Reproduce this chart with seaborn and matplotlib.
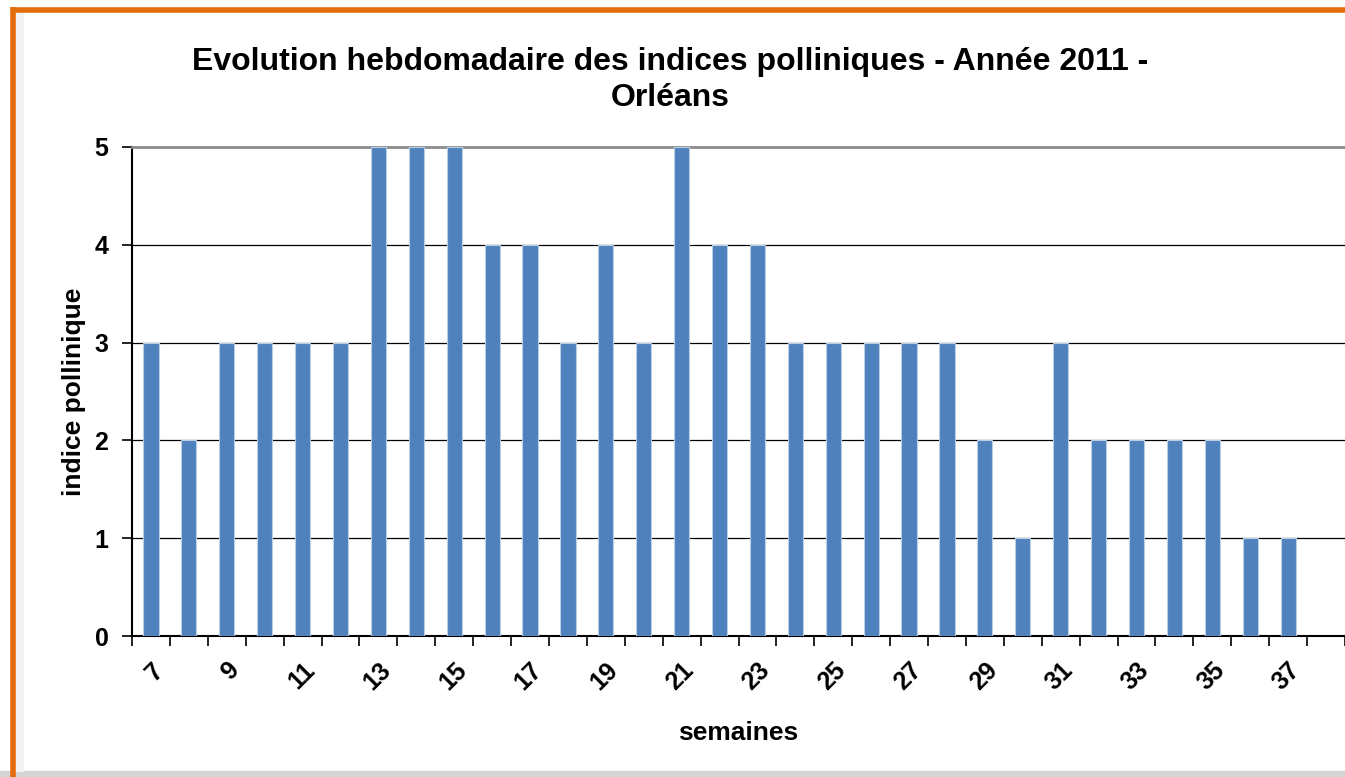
import matplotlib
matplotlib.use("Agg")
import matplotlib.pyplot as plt
import matplotlib.transforms as mtransforms
import seaborn as sns
import pandas as pd
import numpy as np
from matplotlib.lines import Line2D
from matplotlib.patches import Rectangle

weeks = [str(w) for w in range(7, 39)]
values = [3, 2, 3, 3, 3, 3, 5, 5, 5, 4, 4, 3, 4, 3, 5, 4, 4,
          3, 3, 3, 3, 3, 2, 1, 3, 2, 2, 2, 2, 1, 1, np.nan]
yticks = [0, 1, 2, 3, 4, 5]
title = "Evolution hebdomadaire des indices polliniques - Année 2011 -\nOrléans"
xlabel = "semaines"
ylabel = "indice pollinique"

sns.set_theme(style="white")
plt.rcParams['font.family'] = ['Liberation Sans', 'DejaVu Sans']
plt.rcParams['text.color'] = 'black'
plt.rcParams['axes.labelcolor'] = 'black'
plt.rcParams['xtick.color'] = 'black'
plt.rcParams['ytick.color'] = 'black'

df = pd.DataFrame({"semaine": weeks, "indice": values})

fig = plt.figure(figsize=(13.45, 7.77), dpi=100)
fig.patch.set_facecolor("white")

# frame decorations
fig.add_artist(Rectangle((0, 0), 1, 6/777, transform=fig.transFigure, color="#d4d4d4", zorder=0))
fig.add_artist(Rectangle((15/1345, 6/777), 8/1345, 1-18/777, transform=fig.transFigure, color="#f2f2f2", zorder=0))
fig.add_artist(Line2D([12.5/1345, 12.5/1345], [0, 1-7/777], transform=fig.transFigure,
                      color="#E46C0A", lw=4, solid_capstyle="butt"))
fig.add_artist(Line2D([10.5/1345, 1], [1-9.5/777, 1-9.5/777], transform=fig.transFigure,
                      color="#E46C0A", lw=4, solid_capstyle="butt"))

ax = fig.add_axes([132/1345, 1-636/777, 1-132/1345, (636-147)/777])
sns.barplot(data=df, x="semaine", y="indice", order=weeks, color="#4F81BD",
            saturation=1, width=0.4, edgecolor="#b9cde5", linewidth=0.8, ax=ax, zorder=3)

ax.set_ylim(0, 5)
ax.set_xlim(-0.5, len(weeks) - 0.5)
ax.set_yticks(yticks)
ax.set_yticklabels([str(t) for t in yticks], fontsize=18, fontweight="bold")
for t in yticks[1:-1]:
    ax.axhline(t, color="black", lw=0.9, zorder=1)

pos = list(range(0, len(weeks), 2))
ax.set_xticks(pos)
labels = ax.set_xticklabels([weeks[i] for i in pos], fontsize=18, fontweight="bold",
                            rotation=45, ha="right", va="top", rotation_mode="anchor")
off = mtransforms.ScaledTranslation(-6/100, 0, fig.dpi_scale_trans)
for lb in labels:
    lb.set_transform(lb.get_transform() + off)
ax.set_xticks(np.arange(-0.5, len(weeks), 1), minor=True)
ax.tick_params(axis="x", which="major", length=0, pad=16)
ax.tick_params(axis="x", which="minor", length=7, width=1.2, color="black", direction="out", bottom=True)
ax.tick_params(axis="y", length=7, width=1.2, color="black", direction="out", left=True, pad=10)

for s in ["left", "bottom"]:
    ax.spines[s].set_color("black")
    ax.spines[s].set_linewidth(1.5)
ax.spines["top"].set_color("#8c8c8c")
ax.spines["top"].set_linewidth(2)
ax.spines["right"].set_visible(False)

ax.set_xlabel(xlabel, fontsize=19, fontweight="bold", labelpad=19)
ax.set_ylabel(ylabel, fontsize=19, fontweight="bold", labelpad=6)
fig.text(670/1345, 1-80/777, title, ha="center", va="center", fontsize=23,
         fontweight="bold", linespacing=1.25)

fig.savefig("out.png", dpi=100)
